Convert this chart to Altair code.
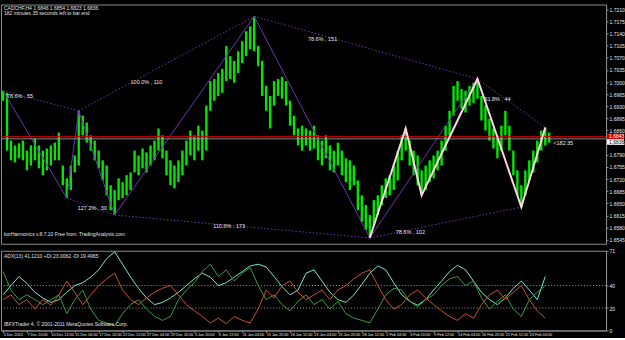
import altair as alt
import pandas as pd

# ---------------- data ----------------
highs = [1.6975,1.6969,1.6831,1.6817,1.6823,1.6831,1.6802,1.6817,1.6837,1.6817,
         1.6802,1.6808,1.6817,1.6825,1.6854,1.6759,1.6722,1.6759,1.6788,1.6917,
         1.6903,1.6883,1.6846,1.6831,1.6802,1.6774,1.6759,1.6702,1.6688,1.6722,
         1.6711,1.6731,1.6739,1.6802,1.6788,1.6808,1.6797,1.6817,1.6831,1.6866,
         1.6846,1.6802,1.6774,1.6759,1.6774,1.6802,1.6831,1.6860,1.6846,1.6874,
         1.6860,1.6932,1.7003,1.7009,1.7026,1.7038,1.7104,1.7075,1.7061,1.7089,
         1.7118,1.7147,1.7161,1.7190,1.7104,1.7061,1.6989,1.6960,1.7003,1.7009,
         1.7015,1.7003,1.6946,1.6903,1.6866,1.6874,1.6866,1.6860,1.6874,1.6846,
         1.6831,1.6846,1.6817,1.6802,1.6825,1.6802,1.6780,1.6774,1.6759,1.6716,
         1.6673,1.6645,1.6616,1.6659,1.6673,1.6702,1.6722,1.6731,1.6759,1.6802,
         1.6846,1.6866,1.6831,1.6802,1.6788,1.6745,1.6759,1.6774,1.6788,1.6802,
         1.6831,1.6874,1.6917,1.6989,1.7003,1.6980,1.6975,1.6989,1.6998,1.7009,
         1.6960,1.6932,1.6894,1.6866,1.6837,1.6874,1.6917,1.6874,1.6802,1.6745,
         1.6702,1.6745,1.6774,1.6802,1.6831,1.6860,1.6869,1.6854]
lows = [1.6946,1.6802,1.6774,1.6768,1.6780,1.6774,1.6745,1.6759,1.6774,1.6751,
        1.6731,1.6745,1.6759,1.6774,1.6774,1.6702,1.6665,1.6688,1.6739,1.6759,
        1.6846,1.6825,1.6802,1.6774,1.6751,1.6716,1.6673,1.6630,1.6616,1.6659,
        1.6665,1.6673,1.6688,1.6739,1.6731,1.6751,1.6739,1.6759,1.6774,1.6802,
        1.6780,1.6731,1.6702,1.6693,1.6711,1.6731,1.6759,1.6788,1.6774,1.6802,
        1.6774,1.6802,1.6917,1.6946,1.6960,1.6969,1.7003,1.7009,1.6998,1.7026,
        1.7055,1.7075,1.7095,1.7089,1.7046,1.6960,1.6917,1.6866,1.6932,1.6960,
        1.6952,1.6932,1.6874,1.6846,1.6817,1.6802,1.6817,1.6802,1.6808,1.6774,
        1.6759,1.6780,1.6745,1.6739,1.6759,1.6731,1.6711,1.6688,1.6702,1.6630,
        1.6596,1.6573,1.6550,1.6587,1.6616,1.6645,1.6665,1.6673,1.6688,1.6716,
        1.6774,1.6802,1.6759,1.6731,1.6702,1.6673,1.6688,1.6711,1.6722,1.6745,
        1.6759,1.6802,1.6846,1.6903,1.6946,1.6923,1.6912,1.6932,1.6940,1.6952,
        1.6889,1.6860,1.6831,1.6808,1.6780,1.6802,1.6846,1.6802,1.6731,1.6673,
        1.6639,1.6673,1.6716,1.6739,1.6768,1.6802,1.6817,1.6825]

adx = [31.7,40,48,42,34,29,25,27.5,34,40,42.5,47.5,54,64,70,59,47.5,37.5,29,23,
       25,29,34,40,46,51,47.5,40,42.5,47.5,52.5,57.5,59,56.5,48,39,31.7,36,51,54,
       44,34,27.5,25,31.7,41,51,57.5,54,42.5,31.7,26,22.5,27.5,36,44,52.5,58,54,44,
       34,27.5,23,29,37.5,44,36,27.5,48]
plus_di = [52.5,36,27.5,31.7,27.5,23,27.5,31.7,15,27.5,36,19,9,6.7,4,15,23,27.5,19,12.5,
           9,12.5,27.5,36,42.5,52.5,59,48,54,44,51,56,40,27.5,31.7,23,17.5,26,31.7,23,
           27.5,19,26,15,11,9,6.7,19,31.7,37.5,36,26,21,27.5,31.7,40,46,48,40,44,
           29,19,26,31.7,19,12.5,27.5,34,40]
minus_di = [27.5,31.7,23,27.5,19,27.5,22.5,31.7,44,34,23,31.7,40,46,51,36,27.5,23,29,34,
            37.5,40,31.7,23,17.5,12.5,6.7,11,6,12.5,9,6.7,19,36,29,40,44,34,27.5,31.7,
            36,27.5,36,40,46,51,54,40,27.5,19,23,31.7,36,29,23,17.5,12.5,9,15,11,
            23,31.7,36,27.5,34,40,27.5,17.5,11]

# pattern pivots (bar index, price)
zz_bar = [92, 101, 105, 119, 130, 136]
zz_price = [1.6550, 1.6866, 1.6673, 1.7009, 1.6639, 1.6869]
pv_bar = [0, 16, 19, 28, 63, 92, 119]
pv_price = [1.6975, 1.6665, 1.6917, 1.6616, 1.7190, 1.6550, 1.7009]
dot_seg = ["a", "a", "b", "b", "c", "c", "d", "d", "e", "e", "f", "f", "g", "g"]
dot_bar = [0, 19, 19, 63, 63, 119, 119, 136, 92, 130, 28, 92, 16, 28]
dot_price = [1.6975, 1.6917, 1.6917, 1.7190, 1.7190, 1.7009, 1.7009, 1.6869,
             1.6550, 1.6639, 1.6616, 1.6550, 1.6665, 1.6616]

fib_text = ["78.6% , 55", "100.0% , 110", "127.2% , 30", "110.6% , 173",
            "78.6% , 151", "61.8% , 44", "78.6% , 102", "<182:35"]
fib_bar = [1, 32, 18.75, 52.75, 76.5, 120.75, 98.5, 138]
fib_price = [1.6960, 1.7000, 1.6636, 1.6584, 1.7124, 1.6952, 1.6567, 1.6825]

ask_price = 1.6843
bid_price = 1.6836

price_ticks = [1.6545, 1.6580, 1.6615, 1.6650, 1.6685, 1.6720, 1.6755, 1.6790,
               1.6825, 1.6860, 1.6895, 1.6930, 1.6965, 1.7000, 1.7035, 1.7070,
               1.7105, 1.7140, 1.7175, 1.7210]
osc_ticks = [0, 20, 40, 71]
osc_levels = [20, 40]

dates = ["3 Dec 2010", "7 Dec 20:00", "10 Dec 12:00", "15 Dec 04:00", "17 Dec 20:00",
         "22 Dec 12:00", "27 Dec 04:00", "29 Dec 20:00", "3 Jan 20:00", "6 Jan 12:00",
         "11 Jan 04:00", "13 Jan 20:00", "18 Jan 12:00", "21 Jan 04:00", "25 Jan 20:00",
         "28 Jan 12:00", "2 Feb 04:00", "4 Feb 20:00", "9 Feb 12:00", "14 Feb 04:00",
         "16 Feb 20:00", "21 Feb 12:00", "24 Feb 04:00"]
date_bar = [6 * i for i in range(len(dates))]

header1 = "CADCHF,H4  1.6846 1.6854 1.6823 1.6836"
header2 = "182 minutes 35 seconds left to bar end"
footer_main = "korHarmonics v.8.7.10 Free from: TradingAnalysis.com"
osc_header = "ADX(13) 41.1210 +DI 23.0062 -DI 19.4965"
osc_footer = "IBFXTrader 4, \u00a9 2001-2011 MetaQuotes Software Corp."

# ---------------- tables ----------------
bars = pd.DataFrame({"bar": list(range(len(highs))), "high": highs, "low": lows})
osc = pd.DataFrame({"bar": [2 * i for i in range(len(adx))],
                    "ADX": adx, "+DI": plus_di, "-DI": minus_di})
osc_long = osc.melt("bar", var_name="line", value_name="v")
zz = pd.DataFrame({"bar": zz_bar, "price": zz_price, "o": range(len(zz_bar))})
pv = pd.DataFrame({"bar": pv_bar, "price": pv_price, "o": range(len(pv_bar))})
dots = pd.DataFrame({"seg": dot_seg, "bar": dot_bar, "price": dot_price})
fibs = pd.DataFrame({"bar": fib_bar, "price": fib_price, "t": fib_text})

W = 607
FONT = "Liberation Sans"
xs = alt.Scale(domain=[-0.5, 151.25], nice=False, zero=False)
ys = alt.Scale(domain=[1.6533, 1.7224], nice=False, zero=False)
PAX = alt.Axis(orient="right", values=price_ticks, format=".4f", title=None)
XT = alt.X("bar:Q", scale=xs, axis=None)


def PY(field):
    return alt.Y(field, scale=ys, axis=PAX)


price_bars = alt.Chart(bars).mark_rule(color="#00e800", strokeWidth=2.4).encode(
    x=XT, y=PY("low:Q"), y2="high:Q")


def hline(value, color, width):
    return alt.Chart(pd.DataFrame({"p": [value]})).mark_rule(color=color, strokeWidth=width).encode(
        y=PY("p:Q"))


ask_line = hline(ask_price, "#c80000", 1)
bid_line = hline(bid_price, "#a8a8a8", 0.8)

pv_line = alt.Chart(pv).mark_line(color="#6a34b0", strokeWidth=1).encode(
    x=XT, y=PY("price:Q"), order="o:Q")
dot_lines = alt.Chart(dots).mark_line(color="#6a34b0", strokeWidth=1, strokeDash=[1.5, 2]).encode(
    x=XT, y=PY("price:Q"), detail="seg:N")
zz_line = alt.Chart(zz).mark_line(color="#ffd2e4", strokeWidth=2).encode(
    x=XT, y=PY("price:Q"), order="o:Q")

fib_labels = alt.Chart(fibs).mark_text(color="#e8e8e8", font=FONT, fontSize=5.5, align="left",
                                       baseline="middle").encode(
    x=XT, y=PY("price:Q"), text="t:N")


def label(txt, x, y, color="#e0e0e0", size=5):
    return alt.Chart(pd.DataFrame({"t": [txt]})).mark_text(
        color=color, font=FONT, fontSize=size, align="left", baseline="top").encode(
        x=alt.value(x), y=alt.value(y), text="t:N")


ask_box = alt.Chart(pd.DataFrame({"a": [ask_price + 0.0009], "b": [ask_price - 0.0009],
                                  "m": [ask_price], "t": ["%.4f" % ask_price]}))
ask_rect = ask_box.mark_rect(color="#d00000").encode(
    x=alt.value(W + 1), x2=alt.value(W + 18), y=PY("a:Q"), y2="b:Q")
ask_txt = ask_box.mark_text(color="#ffffff", font=FONT, fontSize=5, align="left",
                            baseline="middle").encode(x=alt.value(W + 3), y=PY("m:Q"), text="t:N")
bid_box = alt.Chart(pd.DataFrame({"a": [bid_price - 0.0001], "b": [bid_price - 0.0017],
                                  "m": [bid_price - 0.0009], "t": ["%.4f" % bid_price]}))
bid_rect = bid_box.mark_rect(color="#ffffff").encode(
    x=alt.value(W + 1), x2=alt.value(W + 18), y=PY("a:Q"), y2="b:Q")
bid_txt = bid_box.mark_text(color="#000000", font=FONT, fontSize=5, align="left",
                            baseline="middle").encode(x=alt.value(W + 3), y=PY("m:Q"), text="t:N")

top = alt.layer(
    price_bars, pv_line, dot_lines, ask_line, bid_line, zz_line, fib_labels,
    ask_rect, ask_txt, bid_rect, bid_txt,
    label(header1, 3, 1), label(header2, 3, 7), label(footer_main, 3, 228),
).properties(width=W, height=240)

# oscillator panel
oy = alt.Scale(domain=[0, 71], nice=False, zero=False)
OAX = alt.Axis(orient="right", values=osc_ticks, title=None)
DAX = alt.Axis(values=date_bar, labelExpr="[" + ",".join("'%s'" % d for d in dates)
               + "][round(datum.value / 6)]", labelAlign="left", labelOverlap=False,
               labelFlush=False, title=None, tickSize=2, labelFontSize=3.8, labelPadding=0)
lines = alt.Chart(osc_long).mark_line(strokeWidth=1).encode(
    x=alt.X("bar:Q", scale=xs, axis=DAX),
    y=alt.Y("v:Q", scale=oy, axis=OAX),
    color=alt.Color("line:N", scale=alt.Scale(domain=["ADX", "+DI", "-DI"],
                                              range=["#74e8cf", "#3f9b3f", "#c8502e"]),
                    legend=None),
)
levels = alt.Chart(pd.DataFrame({"lv": osc_levels})).mark_rule(
    color="#9a9a9a", strokeDash=[1, 2], strokeWidth=1).encode(y=alt.Y("lv:Q", scale=oy, axis=OAX))

bottom = alt.layer(levels, lines, label(osc_header, 3, 3), label(osc_footer, 3, 72)
                   ).properties(width=W, height=80)

chart = alt.vconcat(top, bottom, spacing=3).properties(
    background="#000000", padding={"left": 0, "top": 3, "right": 0, "bottom": 0}
).configure_view(stroke="#8c8c8c", strokeWidth=1).configure_axis(
    labelColor="#e8e8e8", labelFont=FONT, labelFontSize=5, tickColor="#8c8c8c",
    domainColor="#8c8c8c", grid=False, tickSize=2, labelPadding=1, labelBound=False,
)

chart.save("out.html", embed_options={"renderer": "svg", "actions": False})
